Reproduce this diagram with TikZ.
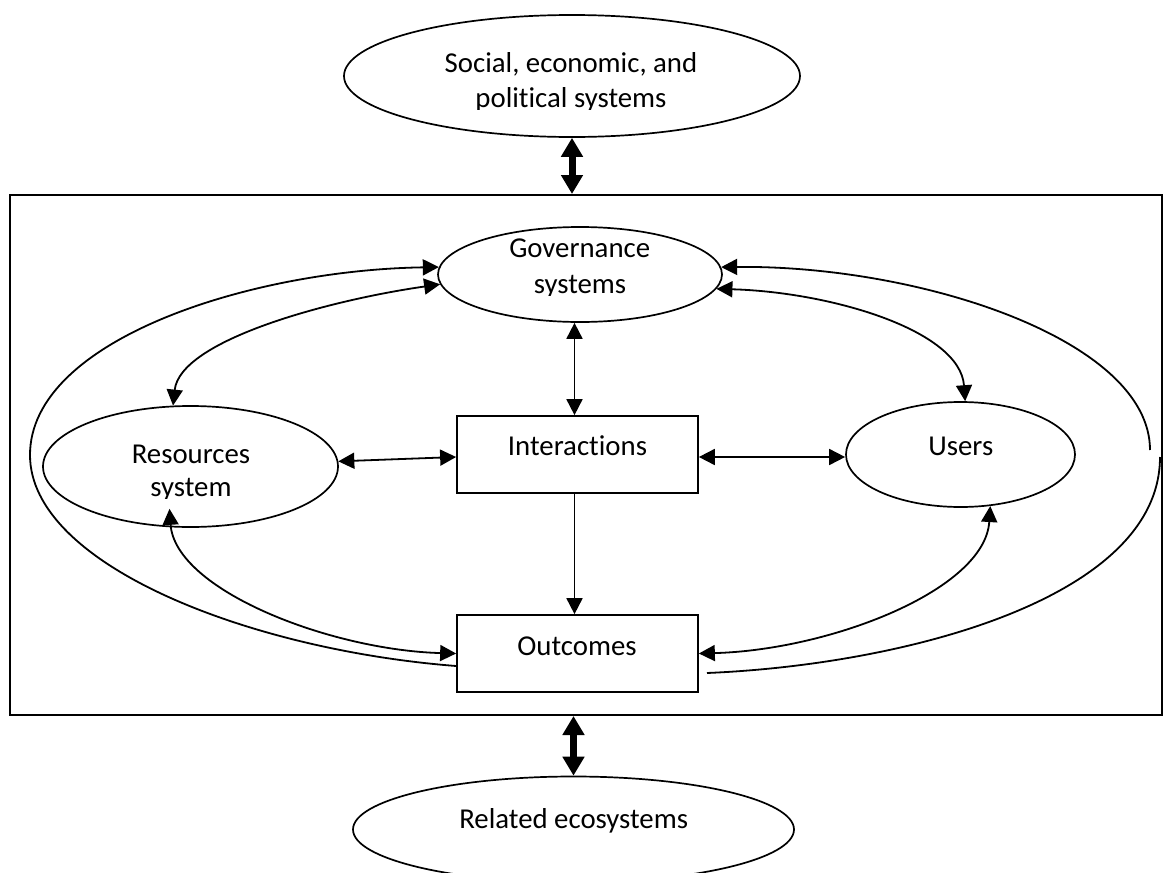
\documentclass[tikz,border=0pt]{standalone}
\usepackage{fontspec}
\setmainfont{Carlito}[Ligatures={NoCommon,NoRequired,NoContextual}]
\usetikzlibrary{arrows.meta,shapes.geometric,calc}
\tikzset{
  ell/.style={ellipse, draw, line width=1.7pt, inner sep=0pt},
  boxnode/.style={rectangle, draw, line width=1.7pt, inner sep=0pt},
  lbl/.style={font=\fontsize{28.8pt}{34pt}\selectfont, inner sep=0pt, anchor=base},
  conn/.style={line width=1.8pt},
  twoway/.style={conn, {Triangle[length=16pt,width=16pt]}-{Triangle[length=16pt,width=16pt]}},
  tohead/.style={conn, -{Triangle[length=16pt,width=16pt]}},
  fromhead/.style={conn, {Triangle[length=16pt,width=16pt]}-},
  bigarrow/.style={line width=7pt, {Triangle[length=19pt,width=21pt]}-{Triangle[length=19pt,width=21pt]}}
}
\begin{document}
\begin{tikzpicture}[x=1pt,y=-1pt]
\useasboundingbox (0,0) rectangle (1163,873);
\clip (0,0) rectangle (1163,873);
\fill[white] (0,0) rectangle (1163,873);

% frame and shapes
\node[boxnode, line width=2pt, minimum width=1152pt, minimum height=520pt] (frame) at (586,455) {};
\node[ell, minimum width=456pt, minimum height=122pt] (soc) at (572,76) {};
\node[ell, minimum width=284pt, minimum height=95pt] (gov) at (580,274.5) {};
\node[ell, minimum width=295pt, minimum height=121pt] (res) at (190.5,466.5) {};
\node[ell, minimum width=229pt, minimum height=105pt] (users) at (960.5,454.5) {};
\node[boxnode, minimum width=241pt, minimum height=77pt] (inter) at (577.5,454.5) {};
\node[boxnode, minimum width=241pt, minimum height=77pt] (out) at (577.5,653.5) {};
\node[ell, minimum width=441pt, minimum height=106pt] (rel) at (573.5,829.5) {};

% texts
\node[lbl] (soctxtA) at (571,72.7) {Social, economic, and};
\begin{scope}
\clip (350,80) rectangle (800,109.5);
\node[lbl] (soctxtB) at (571,107.3) {political systems};
\end{scope}
\node[lbl] (govtxtA) at (579.7,257.3) {Governance};
\begin{scope}
\clip (440,265) rectangle (720,295);
\node[lbl] (govtxtB) at (580,293) {systems};
\end{scope}
\node[lbl] (restxtA) at (191,463.3) {Resources};
\begin{scope}
\clip (50,468) rectangle (330,498.5);
\node[lbl] (restxtB) at (191,496) {system};
\end{scope}
\node[lbl] (intertxt) at (577.5,455) {Interactions};
\node[lbl] (userstxt) at (960.8,455) {Users};
\node[lbl] (outtxt) at (577,655) {Outcomes};
\node[lbl] (reltxt) at (573.7,828.3) {Related ecosystems};

% thick double arrows
\draw[bigarrow] (soc.south) -- (soc.south |- frame.north);
\draw[bigarrow] (frame.south -| rel.north) -- (rel.north);

% straight connectors
\draw[twoway] ([xshift=-3pt]inter.north |- gov.south) -- ([xshift=-3pt]inter.north);
\draw[tohead] ([xshift=-3pt]inter.south) -- ([xshift=-3pt]out.north);
\draw[twoway] (res.2) -- ([yshift=-2.5pt]inter.west);
\draw[twoway] ([yshift=-2.5pt]inter.east) -- ([yshift=-2.5pt]users.west);

% curved connectors
\draw[twoway] (gov.184) .. controls (330,300) and (180,340) .. (res.106);
\draw[twoway] (gov.-6) .. controls (830,292) and (960,330) .. (users.85);
\draw[twoway] ($(res.south)+(-21,-19)$) .. controls (175,590) and (330,650) .. (out.west);
\draw[twoway] (users.300) .. controls (985,590) and (830,650) .. (out.east);

% outer loops
\draw[fromhead] (gov.177) .. controls (250,270) and (30,340) .. (30,455)
  .. controls (30,565) and (250,650) .. ([yshift=-12.5pt]out.west);
\coordinate (rgapA) at (1150,450);
\coordinate (rgapB) at (1160,457);
\coordinate (rend) at (707,673);
\draw[fromhead] (gov.3) .. controls (920,265) and (1150,340) .. (rgapA);
\draw[conn] (rgapB) .. controls (1160,600) and (900,665) .. (rend);
\end{tikzpicture}
\end{document}
